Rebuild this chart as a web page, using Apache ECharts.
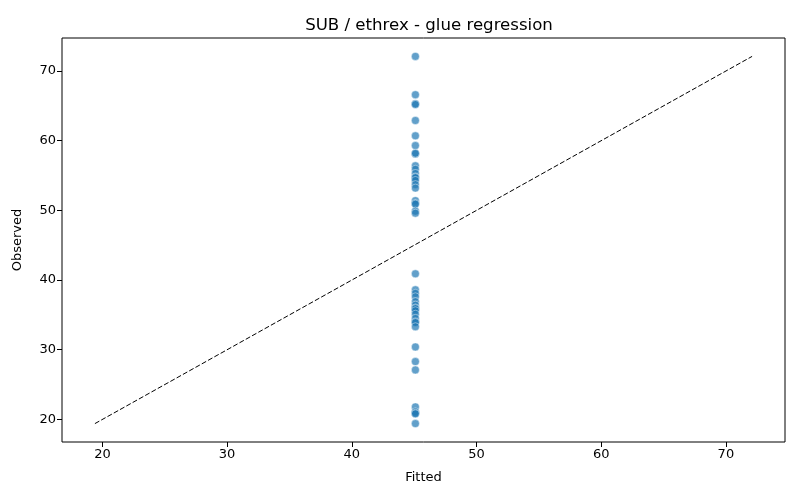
<!DOCTYPE html>
<html>
<head>
<meta charset="utf-8">
<script src="https://cdn.jsdelivr.net/npm/echarts@6/dist/echarts.min.js"></script>
<style>html,body{margin:0;padding:0;background:#fff}#c{width:800px;height:500px}</style>
</head>
<body>
<div id="c"></div>
<script>
const fittedValue = 45.1;
const observed = [72.1, 66.6, 65.3, 65.2, 62.9, 60.7, 59.3, 58.1, 58.2, 56.4, 55.9, 55.3, 54.8, 54.7, 54.3, 53.7, 53.2, 51.4, 51.0, 50.9, 49.9, 49.6,
  40.9, 38.6, 38.1, 37.6, 36.9, 36.4, 36.0, 35.9, 35.6, 35.1, 34.5, 34.0, 33.9, 33.3, 30.4, 28.3, 27.1, 21.8, 21.1, 20.9, 20.8, 19.4];
const refLine = [19.4, 72.1];
const tickValues = [20, 30, 40, 50, 60, 70];
const axisMin = 16.76, axisMax = 74.74;

const points = observed.map(v => [fittedValue, v]);
const linePts = refLine.map(v => [v, v]);

const font = 'DejaVu Sans';
function axis(name, gap) {
  return {
    type: 'value', min: axisMin, max: axisMax,
    name: name, nameLocation: 'middle', nameGap: gap,
    nameTextStyle: { color: '#000', fontSize: 13, fontFamily: font },
    axisLine: { show: false },
    axisTick: { show: true, inside: false, length: 5, lineStyle: { color: '#000', width: 1 }, customValues: tickValues },
    axisLabel: { color: '#000', fontSize: 13, fontFamily: font, margin: 6, customValues: tickValues },
    splitLine: { show: false }
  };
}
const chart = echarts.init(document.getElementById('c'), null, { renderer: 'canvas' });
chart.setOption({
  animation: false,
  backgroundColor: '#fff',
  title: { text: 'SUB / ethrex - glue regression', left: 424, top: 12, textAlign: 'center',
    textStyle: { color: '#000', fontSize: 16.6, fontWeight: 'normal', fontFamily: font } },
  grid: { left: 62, right: 15, top: 38, bottom: 58, show: true, borderColor: '#000', borderWidth: 1, backgroundColor: 'transparent' },
  xAxis: axis('Fitted', 29),
  yAxis: axis('Observed', 38),
  series: [
    { type: 'scatter', data: points, symbolSize: 8,
      itemStyle: { color: '#1f77b4', opacity: 0.7, borderColor: '#fff', borderWidth: 0.6 } },
    { type: 'line', data: linePts, showSymbol: false, symbol: 'none',
      lineStyle: { color: '#000', width: 1, type: [5, 2.2] } }
  ]
});
</script>
</body>
</html>
